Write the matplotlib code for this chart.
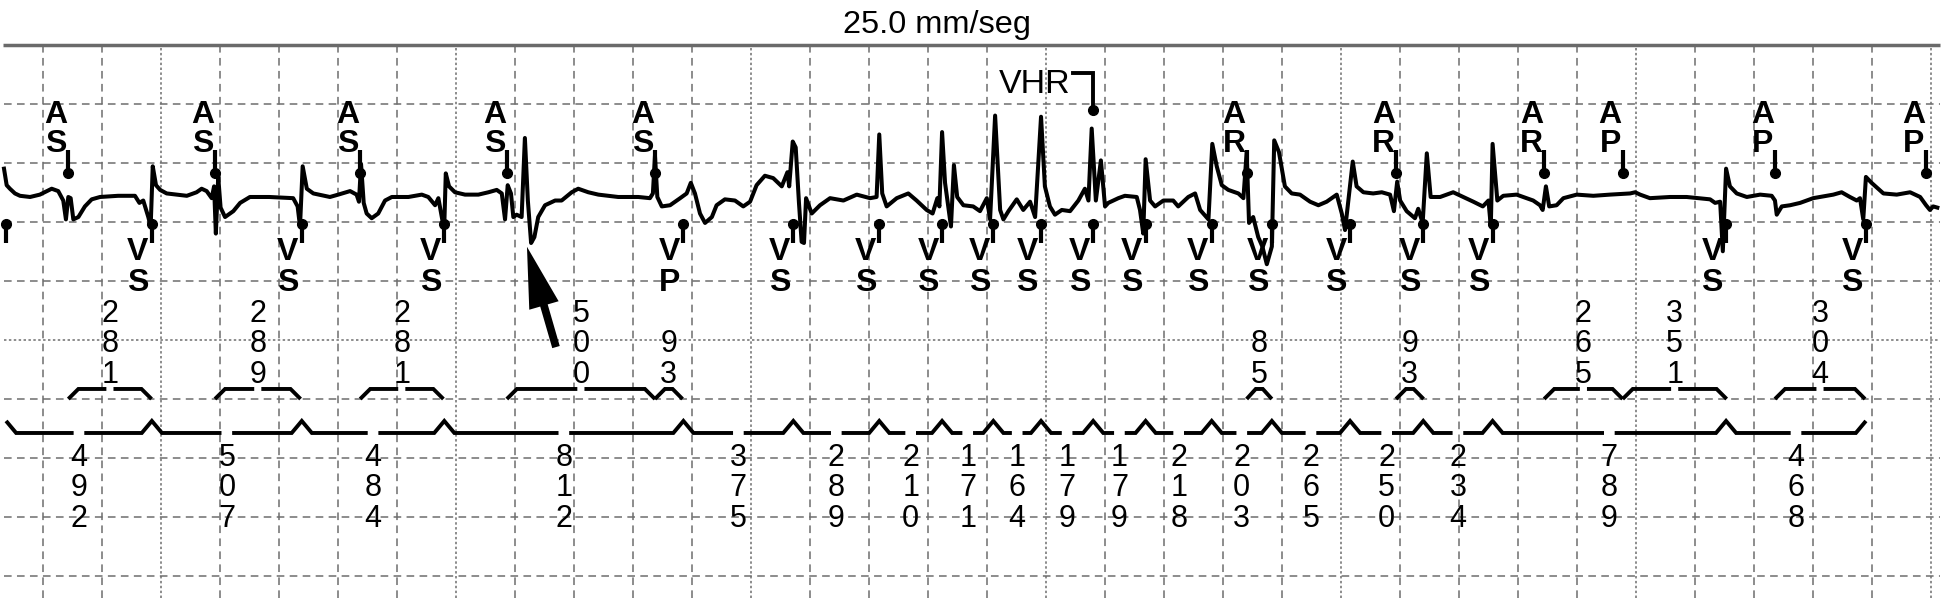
import numpy as np
import matplotlib.pyplot as plt
from matplotlib.patches import FancyArrowPatch

plt.rcParams['font.family'] = ['Liberation Sans', 'DejaVu Sans']

# paper speed 25 mm/s: times in ms, amplitudes in mm on the paper
title = "25.0 mm/seg"

# EGM trace, mm above its baseline
egm_ms = [-135, -126, -115, -98, -81, -47, -14, 26, 48, 65, 74, 82, 90, 99, 116, 138, 161, 189, 250, 307,
          322, 335, 352, 360, 367, 378, 392, 414, 482, 515, 532, 549, 566, 574, 580, 588, 596, 611, 639, 662,
          695, 760, 841, 856, 864, 873, 887, 909, 965,
          993, 1033, 1055, 1063, 1070, 1079, 1089, 1106, 1128, 1151, 1174, 1230, 1275, 1297, 1320, 1331, 1344,
          1351, 1356, 1367, 1387, 1421, 1466, 1500, 1528, 1545, 1556, 1565, 1576, 1584, 1595, 1612, 1623, 1633,
          1644, 1655, 1668, 1691, 1725, 1747, 1781, 1803, 1837, 1871, 1938, 2006, 2045,
          2055, 2062, 2070, 2085, 2113, 2147, 2169, 2183, 2197, 2214, 2231, 2254, 2270, 2298, 2332, 2360, 2383,
          2405, 2433, 2461, 2490, 2509, 2515, 2527, 2537, 2548, 2557, 2565, 2572, 2591, 2619, 2653, 2698, 2743,
          2788, 2810, 2819, 2829, 2844, 2878, 2917, 2945, 2979, 2999, 3015, 3022, 3031, 3041, 3052, 3061, 3071,
          3082, 3103, 3136, 3159,
          3182, 3193, 3210, 3227, 3238, 3255, 3283, 3305, 3328, 3345, 3365, 3378, 3395, 3412, 3435, 3463, 3491,
          3513, 3525, 3536, 3550, 3567, 3581, 3592, 3626, 3648, 3688, 3699, 3710, 3718, 3733, 3750, 3778, 3811,
          3828, 3862, 3885, 3902, 3930, 3943, 3958, 3975, 3997, 4031, 4048, 4059, 4067, 4081, 4098, 4112, 4127,
          4144, 4152, 4168, 4188, 4211, 4239,
          4273, 4301, 4329, 4363, 4380, 4391, 4417, 4430, 4453, 4486, 4515, 4543, 4556, 4567, 4577, 4599, 4627,
          4638, 4653, 4667, 4680, 4712, 4756, 4790, 4824, 4856, 4875, 4883, 4889, 4905, 4925, 4970, 5026, 5049,
          5058, 5069, 5080, 5105, 5128, 5173, 5229, 5285, 5353,
          5370, 5387, 5420, 5488, 5544, 5623, 5640, 5657, 5666, 5677, 5690, 5713, 5747, 5792, 5831, 5842, 5848,
          5865, 5893, 5927, 5971, 6039, 6067, 6095, 6118, 6129, 6140, 6149, 6168, 6208, 6253, 6298, 6332, 6352,
          6365, 6376, 6390]
egm_mm = [2.4, 1.0, 0.7, 0.3, 0.1, 0.0, 0.2, 0.7, 0.5, -0.3, -1.9, 0.0, -0.1, -1.9, -1.7, -0.8, -0.2, 0.0, 0.1, 0.1,
          -0.5, -0.3, -1.7, -2.5, 2.6, 1.0, 0.6, 0.3, 0.1, 0.4, 0.7, 0.5, -0.1, 0.9, -3.1, 1.7, -0.9, -1.7, -1.2, -0.5,
          0.0, 0.0, -0.1, -0.8, -2.5, 2.6, 0.7, 0.3, 0.0,
          0.2, 0.5, 0.2, -0.4, 2.8, -0.5, -1.4, -1.8, -1.4, -0.3, 0.0, 0.0, 0.2, 0.0, -0.7, -0.1, -1.9,
          -2.4, 2.0, 0.9, 0.4, 0.2, 0.2, 0.4, 0.6, 0.3, -1.9, 1.0, 0.3, -1.7, -1.5, -1.7, 5.0, -0.3,
          -3.9, -3.4, -1.7, -0.7, -0.3, -0.3, 0.4, 0.7, 0.4, 0.2, 0.0, 0.0, -0.1,
          0.3, 3.5, 0.0, -0.8, -0.7, -0.1, 0.3, 1.2, 0.3, -1.4, -2.2, -1.7, -0.7, -0.2, -0.3, -0.8, -0.4,
          1.0, 1.8, 1.6, 0.9, 2.1, 0.9, 4.7, 4.2, -0.5, -3.8, -3.9, -0.1, -1.4, -0.7, -0.1, -0.3, 0.2,
          -0.1, 0.0, 5.3, 0.3, -0.8, -0.1, 0.3, -0.3, -1.1, -1.4, -0.1, -0.8, 5.5, 1.2, -0.8, -2.5, 2.7,
          0.0, -0.7, -0.8, -1.2,
          -0.1, -1.9, 6.9, -1.1, -1.9, -1.2, -0.2, -1.1, -0.4, -1.7, 6.8, 0.9, -0.8, -1.5, -1.1, -1.2, -0.3,
          0.7, -0.3, 5.8, -0.3, 3.1, -0.8, -0.5, -0.1, 0.1, 0.0, -1.1, -3.1, 3.2, -0.3, -0.8, -0.3, -0.3,
          -0.8, 0.0, 0.3, -1.1, -1.9, 4.5, 2.6, 1.0, 0.6, 0.3, -0.1, 3.8, -2.2, -1.7, -3.4, -4.2, -5.7,
          -4.2, 4.8, 3.8, 0.9, 0.3, 0.2,
          -0.4, -0.7, -0.4, 0.2, -1.4, -2.8, 3.0, 0.9, 0.4, 0.3, 0.4, 0.2, -1.2, 1.3, -0.3, -1.2, -1.8,
          -1.0, -2.2, 3.7, 0.0, 0.0, 0.4, 0.0, -0.4, -0.8, -0.3, -2.5, 4.5, -0.3, 0.1, 0.2, -0.3, -0.7,
          -1.1, 0.9, -0.8, -0.7, -0.1, 0.2, 0.1, 0.2, 0.3,
          0.4, 0.2, -0.1, 0.0, 0.0, -0.2, -0.5, -0.4, -4.6, 2.4, 0.9, 0.3, 0.0, 0.2, 0.1, -0.3, -1.5,
          -0.8, -0.7, -0.5, -0.1, 0.2, 0.4, 0.0, -0.3, -0.1, -1.9, 1.7, 1.2, 0.3, 0.2, 0.4, 0.0, -0.7,
          -1.1, -0.8, -0.9]

# marker channel
atrial_ms = [82, 577, 1067, 1562, 2062, 4059, 4563, 5063, 5328, 5842, 6352]
atrial_code = ["AS", "AS", "AS", "AS", "AS", "AR", "AR", "AR", "AP", "AP", "AP"]
vent_ms = [-128, 364, 870, 1351, 2158, 2529, 2819, 3031, 3204, 3365, 3541, 3718, 3941, 4144,
           4408, 4655, 4889, 5677, 6149]
vent_code = ["VS", "VS", "VS", "VS", "VP"] + ["VS"] * 14
vhr_index = 10

# intervals printed by the device (ms)
a_interval_ms = [281, 289, 281, 500, 93, 85, 93, 265, 351, 304]
vv_interval_ms = [492, 507, 484, 812, 375, 289, 210, 171, 164, 179, 179, 218, 203, 265, 250, 234, 789, 468]

arrow_tip_ms = 1630  # annotated deflection after the 4th AS

# ---- layout ----
W, H = 1943, 616
MS_PER_PX = 3.375
MM_PX = 11.8
EGM_Y = 12.12
GRID_MS = 199.1
X_LEFT = -148.5

fig = plt.figure(figsize=(W / 100, H / 100), dpi=100)
ax = fig.add_axes([0, 0, 1, 1])
ax.set_xlim(X_LEFT, X_LEFT + W * MS_PER_PX)
ax.set_ylim(-(H - 340) / MM_PX, 340 / MM_PX)
ax.axis('off')

gcol = '#6e6e6e'
for k in range(33):
    gx = -2.4 + GRID_MS * k
    ls = (0, (1.6, 1.6)) if k % 5 == 2 else (0, (5, 3.5))
    ax.plot([gx, gx], [-21.86, 24.83], color=gcol, lw=1.1, ls=ls, zorder=1)
for gy in range(-20, 21, 5):
    ls = (0, (1.6, 1.6)) if gy == 0 else (0, (5, 3.5))
    ax.plot([-135, 6399], [gy, gy], color=gcol, lw=1.1, ls=ls, zorder=1)
ax.plot([-138, 6400], [25, 25], color='#6a6a6a', lw=2.5, solid_capstyle='butt', zorder=1)

ax.text(3014, 26.0, title, fontsize=23.4, ha='center', va='baseline')

# trace
ax.plot(egm_ms, np.array(egm_mm) + EGM_Y, color='black', lw=2.9, solid_joinstyle='round', zorder=3)

mk = dict(color='black', lw=3.0, solid_capstyle='butt', zorder=4)
bold = dict(fontsize=23, fontweight='bold', ha='center', va='baseline', zorder=5)

for t, code in zip(atrial_ms, atrial_code):
    ax.plot([t, t], [16.1, 14.13], **mk)
    ax.plot(t, 14.13, 'o', color='black', ms=7, zorder=4)
    ax.text(t - 42, 18.36, code[0], **bold)
    ax.text(t - 42, 15.89, code[1], **bold)

for t, code in zip(vent_ms, vent_code):
    ax.plot([t, t], [9.81, 8.19], **mk)
    ax.plot(t, 9.81, 'o', color='black', ms=7, zorder=4)
    if t - 47 > X_LEFT + 30:  # label of the clipped first beat is off the strip
        ax.text(t - 47, 6.78, code[0], **bold)
        ax.text(t - 47, 4.15, code[1], **bold)

tv = vent_ms[vhr_index]
ax.plot([tv - 68, tv, tv], [22.6, 22.6, 19.49], color='black', lw=2.8, solid_joinstyle='miter', zorder=4)
ax.plot(tv, 19.49, 'o', color='black', ms=7, zorder=4)
ax.text(tv - 78, 20.91, 'VHR', fontsize=24.5, ha='right', va='baseline')

# upper brackets: atrial event -> next event
br = dict(color='black', lw=2.8, solid_joinstyle='miter', solid_capstyle='butt', zorder=4)
digit = dict(fontsize=22, family=['Liberation Sans Narrow', 'Liberation Sans'],
             ha='center', va='baseline', zorder=5)
UP_LO, UP_HI = -5.0, -4.15
for start, dur in zip(atrial_ms, a_interval_ms):
    end = start + dur
    ramp = min(34, 0.36 * dur)
    mid = (start + end) / 2
    xs, ys = [start, start + ramp], [UP_LO, UP_HI]
    if dur > 150:
        xs += [mid - 12, np.nan, mid + 12]
        ys += [UP_HI, np.nan, UP_HI]
    xs += [end - ramp, end]
    ys += [UP_HI, UP_LO]
    ax.plot(xs, ys, **br)
    for j, ch in enumerate(str(dur)[::-1]):
        ax.text(mid, -3.64 + j * 2.6, ch, **digit)

# lower line: V-V intervals
LOW_Y, PEAK = -7.88, 1.02
xs, ys = [], []
for i, t in enumerate(vent_ms):
    if i > 0:
        xs.append(t - 34); ys.append(LOW_Y)
    xs.append(t); ys.append(LOW_Y + PEAK)
    if i < len(vent_ms) - 1:
        mid = (t + vent_ms[i + 1]) / 2
        xs += [t + 34, mid - 18, np.nan, mid + 18]
        ys += [LOW_Y, LOW_Y, np.nan, LOW_Y]
ax.plot(xs, ys, **br)
for i, dur in enumerate(vv_interval_ms):
    mid = (vent_ms[i] + vent_ms[i + 1]) / 2
    for j, ch in enumerate(str(dur)):
        ax.text(mid, -10.65 - j * 2.58, ch, **digit)

# big annotation arrow
ax.add_patch(FancyArrowPatch((arrow_tip_ms + 98, -0.6), (arrow_tip_ms, 7.9),
                             arrowstyle='simple,head_length=2.2,head_width=1.1,tail_width=0.28',
                             mutation_scale=20, fc='black', ec='black', lw=0,
                             shrinkA=0, shrinkB=0, zorder=5))

fig.savefig('out.png', dpi=100, facecolor='white')
